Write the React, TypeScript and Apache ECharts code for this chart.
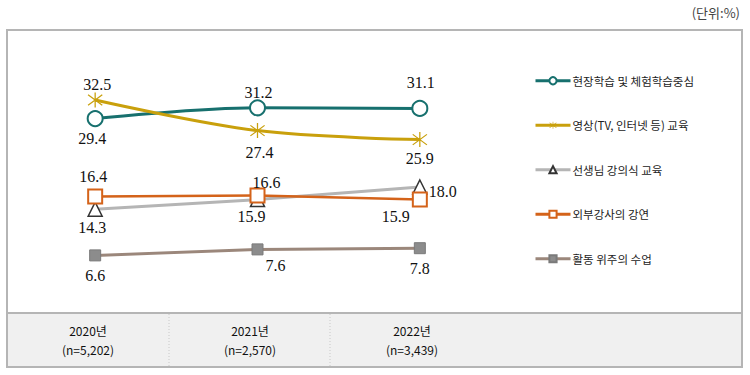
import React, { useEffect, useRef } from 'react';
import * as echarts from 'echarts';

const years = ['2020년', '2021년', '2022년'];
const sampleSizes = ['(n=5,202)', '(n=2,570)', '(n=3,439)'];
const seriesNames = [
  '현장학습 및 체험학습중심',
  '영상(TV, 인터넷 등) 교육',
  '선생님 강의식 교육',
  '외부강사의 강연',
  '활동 위주의 수업',
];
const fieldTrip = [29.4, 31.2, 31.1];
const video = [32.5, 27.4, 25.9];
const lecture = [14.3, 15.9, 18.0];
const guest = [16.4, 16.6, 15.9];
const activity = [6.6, 7.6, 7.8];
const unitText = '(단위:%)';

// label offsets (styling, relative to each marker)
const offFieldTrip = [[-3, 20], [1, -15], [1, -26]];
const offVideo = [[2, -16], [2, 22], [0, 19]];
const offLecture = [[-3, 18], [-6, 17], [23, 4]];
const offGuest = [[-2, -20], [9, -13], [-24, 17]];
const offActivity = [[0, 20], [18, 16], [0, 20]];

const ASTERISK =
  'path://M9.2,0 L10.8,0 L10.8,20 L9.2,20 Z ' +
  'M1.49,2.37 L19.49,16.37 L18.51,17.63 L0.51,3.63 Z ' +
  'M0.51,16.37 L18.51,2.37 L19.49,3.63 L1.49,17.63 Z';

const labelFont = {
  fontFamily: '"Liberation Serif", "DejaVu Serif", serif',
  fontSize: 16,
  color: '#111',
};

function mkData(vals: number[], offs: number[][]) {
  return vals.map((v, i) => ({ value: v, label: { offset: offs[i] } }));
}

export default function App() {
  const ref = useRef<HTMLDivElement>(null);
  useEffect(() => {
    if (!ref.current) return;
    const chart = echarts.init(ref.current, undefined, { renderer: 'svg' });
    const baseLabel = {
      show: true,
      position: 'inside',
      align: 'center',
      verticalAlign: 'middle',
      formatter: (p: any) => Number(p.value).toFixed(1),
      ...labelFont,
    };
    const colCenters = [88, 250, 412];
    const tableTexts: any[] = [];
    years.forEach((y, i) => {
      tableTexts.push({
        type: 'text',
        x: colCenters[i],
        y: 330,
        style: {
          text: y,
          fill: '#111',
          font: '12px "Noto Sans CJK KR", sans-serif',
          textAlign: 'center',
          textVerticalAlign: 'middle',
        },
      });
      tableTexts.push({
        type: 'text',
        x: colCenters[i],
        y: 349,
        style: {
          text: sampleSizes[i],
          fill: '#111',
          font: '12px "Noto Sans CJK KR", sans-serif',
          textAlign: 'center',
          textVerticalAlign: 'middle',
        },
      });
    });
    chart.setOption({
      animation: false,
      backgroundColor: '#fff',
      grid: { left: 14, width: 487, top: 55, height: 240 },
      xAxis: {
        type: 'category',
        data: years,
        boundaryGap: true,
        show: false,
      },
      yAxis: { type: 'value', min: 0, max: 40, show: false, splitLine: { show: false } },
      legend: {
        orient: 'vertical',
        left: 529,
        top: 70,
        itemWidth: 35,
        itemHeight: 9,
        itemGap: 33,
        data: seriesNames,
        lineStyle: { width: 3 },
        textStyle: {
          fontFamily: '"Noto Sans CJK KR", sans-serif',
          fontSize: 11.5,
          color: '#222',
          padding: [0, 0, 0, -3],
        },
      },
      graphic: [
        {
          type: 'rect',
          shape: { x: 7, y: 313, width: 735, height: 54 },
          style: { fill: '#f0f0f0', stroke: 'none' },
        },
        {
          type: 'line',
          shape: { x1: 7, y1: 313, x2: 742, y2: 313 },
          style: { stroke: '#b5b5b5', lineWidth: 2 },
        },
        {
          type: 'line',
          shape: { x1: 169, y1: 314, x2: 169, y2: 366 },
          style: { stroke: '#c8c8c8', lineWidth: 1, lineDash: [1, 2] },
        },
        {
          type: 'line',
          shape: { x1: 330, y1: 314, x2: 330, y2: 366 },
          style: { stroke: '#c8c8c8', lineWidth: 1, lineDash: [1, 2] },
        },
        {
          type: 'rect',
          shape: { x: 7, y: 30, width: 735, height: 337 },
          style: { fill: 'none', stroke: '#b5b5b5', lineWidth: 2 },
        },
        {
          type: 'text',
          x: 740,
          y: 12,
          style: {
            text: unitText,
            fill: '#444',
            font: '13px "Noto Sans CJK KR", sans-serif',
            textAlign: 'right',
            textVerticalAlign: 'middle',
          },
        },
        ...tableTexts,
      ],
      series: [
        {
          name: seriesNames[0],
          type: 'line',
          smooth: 0.35,
          data: mkData(fieldTrip, offFieldTrip),
          symbol: 'circle',
          symbolSize: 15,
          lineStyle: { color: '#17706e', width: 3 },
          itemStyle: { color: '#ffffff', borderColor: '#17706e', borderWidth: 2 },
          label: baseLabel,
          z: 3,
        },
        {
          name: seriesNames[1],
          type: 'line',
          smooth: 0.35,
          data: mkData(video, offVideo),
          symbol: ASTERISK,
          symbolSize: 15,
          lineStyle: { color: '#c9a00c', width: 3 },
          itemStyle: { color: '#c9a00c' },
          label: baseLabel,
          z: 3,
        },
        {
          name: seriesNames[2],
          type: 'line',
          data: mkData(lecture, offLecture),
          symbol: 'triangle',
          symbolSize: 14,
          lineStyle: { color: '#b5b5b5', width: 3 },
          itemStyle: { color: '#ffffff', borderColor: '#333', borderWidth: 1.5 },
          label: baseLabel,
          z: 2,
        },
        {
          name: seriesNames[3],
          type: 'line',
          data: mkData(guest, offGuest),
          symbol: 'rect',
          symbolSize: 14,
          lineStyle: { color: '#d4631a', width: 2.5 },
          itemStyle: { color: '#ffffff', borderColor: '#d4631a', borderWidth: 2 },
          label: baseLabel,
          z: 3,
        },
        {
          name: seriesNames[4],
          type: 'line',
          data: mkData(activity, offActivity),
          symbol: 'rect',
          symbolSize: 11,
          lineStyle: { color: '#9b877b', width: 3 },
          itemStyle: { color: '#8c8c8c', borderColor: '#7a7a7a', borderWidth: 1 },
          label: baseLabel,
          z: 2,
        },
      ],
    });
    return () => chart.dispose();
  }, []);
  return (
    <div
      ref={ref}
      style={{ position: 'absolute', left: 0, top: 0, width: 750, height: 375 }}
    />
  );
}
